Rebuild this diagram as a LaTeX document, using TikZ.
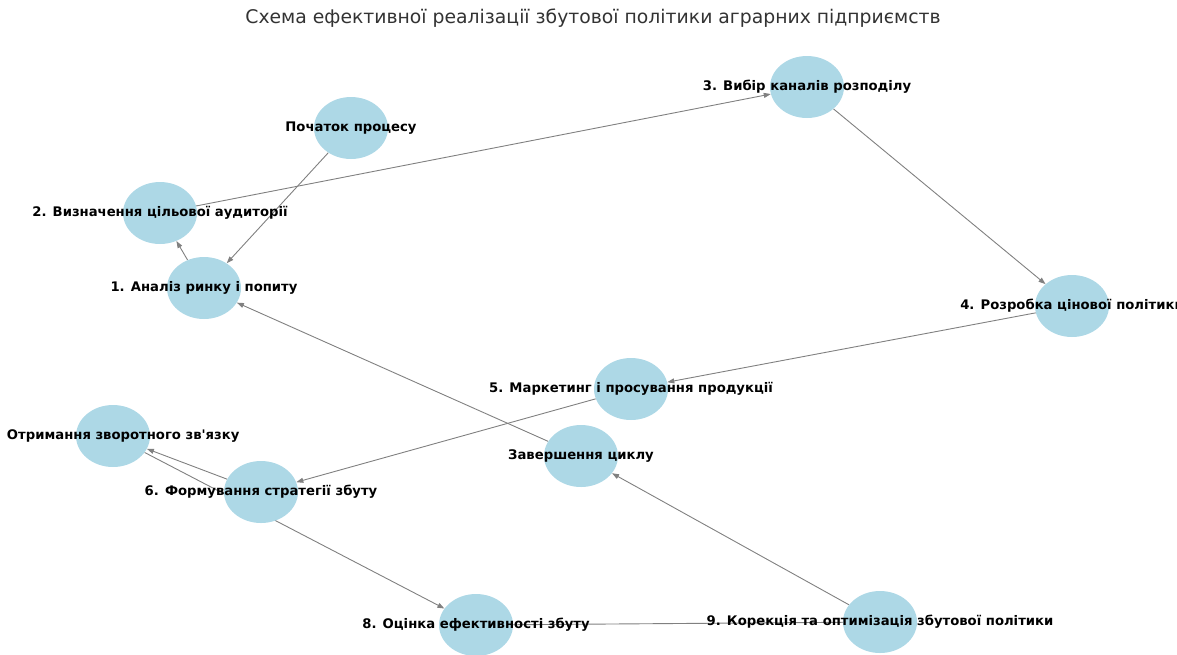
\documentclass[tikz,border=0pt]{standalone}
\usepackage{fontspec}
\setmainfont{DejaVu Sans}
\newfontfamily\lblfont{DejaVu Sans}
\usetikzlibrary{arrows.meta,shapes.geometric,backgrounds}
\definecolor{nodeblue}{HTML}{ADD8E6}
\definecolor{edgegray}{HTML}{808080}
\definecolor{titlegray}{HTML}{333333}
\tikzset{
  blob/.style={ellipse,fill=nodeblue,minimum width=74pt,minimum height=62pt,inner sep=0pt},
  lbl/.style={font=\lblfont\bfseries\fontsize{13.2}{15}\selectfont,text=black,inner sep=0pt},
  conn/.style={draw=edgegray,line width=0.9pt,-{Triangle[length=7pt,width=5pt]}},
  plainconn/.style={draw=edgegray,line width=0.9pt},
}
\begin{document}
\begin{tikzpicture}[x=1pt,y=-1pt]
\useasboundingbox (0,0) rectangle (1177,654);
\clip (0,0) rectangle (1177,654);
\node[font=\fontsize{18.8}{22}\selectfont,text=titlegray] (title) at (593,18) {Схема ефективної реалізації збутової політики аграрних підприємств};
\node[blob] (s) at (351,128) {};
\node[blob] (n1) at (204,288) {};
\node[blob] (n2) at (160,213) {};
\node[blob] (n3) at (807,87) {};
\node[blob] (n4) at (1072,306) {};
\node[blob] (n5) at (631,389) {};
\node[blob] (n6) at (261,492) {};
\node[blob] (n7) at (113,436) {};
\node[blob] (n8) at (476,625) {};
\node[blob] (n9) at (880,622) {};
\node[blob] (e) at (581,456) {};
\begin{pgfonlayer}{background}
\draw[conn] (s) -- (n1);
\draw[conn] (n1) -- (n2);
\draw[conn] (n2) -- (n3);
\draw[conn] (n3) -- (n4);
\draw[conn] (n4) -- (n5);
\draw[conn] (n5) -- (n6);
\draw[conn] (n6) -- (n7);
\draw[conn] (n7) -- (n8);
\draw[plainconn] (n8) -- (n9);
\draw[conn] (n9) -- (e);
\draw[conn] (e) -- (n1);
\end{pgfonlayer}
\node[lbl] (ts) at (351,128) {Початок процесу};
\node[lbl] (t1) at (204,288) {1. Аналіз ринку і попиту};
\node[lbl] (t2) at (160,213) {2. Визначення цільової аудиторії};
\node[lbl] (t3) at (807,87) {3. Вибір каналів розподілу};
\node[lbl] (t4) at (1072,306) {4. Розробка цінової політики};
\node[lbl] (t5) at (631,389) {5. Маркетинг і просування продукції};
\node[lbl] (t6) at (261,492) {6. Формування стратегії збуту};
\node[lbl] (t7) at (113,436) {7. Отримання зворотного зв'язку};
\node[lbl] (t8) at (476,625) {8. Оцінка ефективності збуту};
\node[lbl] (t9) at (880,622) {9. Корекція та оптимізація збутової політики};
\node[lbl] (te) at (581,456) {Завершення циклу};
\end{tikzpicture}
\end{document}
